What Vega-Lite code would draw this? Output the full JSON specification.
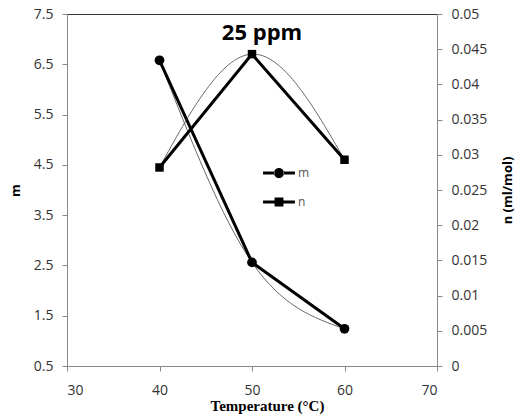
{
  "$schema": "https://vega.github.io/schema/vega-lite/v6.json",
  "autosize": "none",
  "width": 370,
  "height": 352,
  "padding": {"left": 67, "top": 14, "right": 78, "bottom": 50},
  "background": "white",
  "config": {
    "view": {"stroke": "#333", "strokeWidth": 1},
    "axis": {
      "grid": false,
      "labelFont": "Open Sans",
      "labelFontSize": 14,
      "labelColor": "#333",
      "domainColor": "#888",
      "tickColor": "#888",
      "tickSize": 5,
      "titleColor": "#000"
    }
  },
  "title": {
    "text": "25 ppm",
    "font": "Open Sans",
    "fontSize": 22,
    "fontWeight": "bold",
    "color": "#000",
    "orient": "top",
    "anchor": "middle",
    "baseline": "bottom",
    "offset": 0,
    "dy": 60,
    "dx": 10
  },
  "datasets": {
    "pts": [
      {"T": 40, "m": 6.58, "n": 0.0282},
      {"T": 50, "m": 2.56, "n": 0.0443},
      {"T": 60, "m": 1.24, "n": 0.0293}
    ],
    "leg": []
  },
  "data": {"name": "pts"},
  "layer": [
    {
      "encoding": {
        "x": {
          "field": "T",
          "type": "quantitative",
          "scale": {"domain": [30, 70], "nice": false},
          "axis": {
            "values": [30, 40, 50, 60, 70],
            "title": "Temperature (°C)",
            "titleFont": "Liberation Serif",
            "titleFontSize": 15,
            "titleFontWeight": "bold",
            "titleX": 200,
            "labelPadding": 12,
            "titlePadding": 1
          }
        },
        "y": {
          "field": "m",
          "type": "quantitative",
          "scale": {"domain": [0.5, 7.5], "nice": false, "zero": false},
          "axis": {
            "orient": "left",
            "values": [0.5, 1.5, 2.5, 3.5, 4.5, 5.5, 6.5, 7.5],
            "format": ".1f",
            "title": "m",
            "titleFont": "Open Sans",
            "titleFontSize": 13,
            "titleFontWeight": "bold",
            "labelPadding": 9,
            "titlePadding": 11
          }
        }
      },
      "layer": [
        {"mark": {"type": "line", "interpolate": "natural", "strokeWidth": 0.8, "color": "#444"}},
        {"mark": {"type": "line", "strokeWidth": 3, "color": "#000"}},
        {"mark": {"type": "point", "shape": "circle", "filled": true, "size": 95, "opacity": 1, "color": "#000"}}
      ]
    },
    {
      "encoding": {
        "x": {"field": "T", "type": "quantitative"},
        "y": {
          "field": "n",
          "type": "quantitative",
          "scale": {"domain": [0, 0.05], "nice": false},
          "axis": {
            "orient": "right",
            "values": [0, 0.005, 0.01, 0.015, 0.02, 0.025, 0.03, 0.035, 0.04, 0.045, 0.05],
            "format": ".3~f",
            "title": "n (ml/mol)",
            "titleAngle": 270,
            "titleFont": "Open Sans",
            "titleFontSize": 13,
            "titleFontWeight": "bold",
            "labelPadding": 9,
            "titlePadding": 28
          }
        }
      },
      "layer": [
        {"mark": {"type": "line", "interpolate": "natural", "strokeWidth": 0.8, "color": "#444"}},
        {"mark": {"type": "line", "strokeWidth": 3, "color": "#000"}},
        {"mark": {"type": "point", "shape": "square", "filled": true, "size": 72, "opacity": 1, "color": "#000"}}
      ]
    },
    {
      "data": {"name": "leg"},
      "mark": {"type": "point", "filled": true, "color": "#000", "opacity": 1},
      "encoding": {
        "shape": {
          "field": "s",
          "type": "nominal",
          "scale": {
            "domain": ["m", "n"],
            "range": [
              "M-1.33,-0.125L-0.38,-0.125L-0.38,0.125L-1.33,0.125Z M0.38,-0.125L1.33,-0.125L1.33,0.125L0.38,0.125Z M-0.42,0A0.42,0.42,0,1,0,0.42,0A0.42,0.42,0,1,0,-0.42,0Z",
              "M-1.33,-0.125L-0.36,-0.125L-0.36,0.125L-1.33,0.125Z M0.36,-0.125L1.33,-0.125L1.33,0.125L0.36,0.125Z M-0.37,-0.37L0.37,-0.37L0.37,0.37L-0.37,0.37Z"
            ]
          },
          "legend": {
            "orient": "none",
            "legendX": 200,
            "legendY": 147,
            "title": null,
            "padding": 0,
            "symbolSize": 576,
            "symbolFillColor": "#000",
            "symbolStrokeColor": "#000",
            "symbolStrokeWidth": 0,
            "symbolOpacity": 1,
            "rowPadding": 11,
            "labelOffset": 7,
            "labelFont": "Open Sans",
            "labelFontSize": 12,
            "labelColor": "#555"
          }
        }
      }
    }
  ],
  "resolve": {"scale": {"y": "independent"}}
}
